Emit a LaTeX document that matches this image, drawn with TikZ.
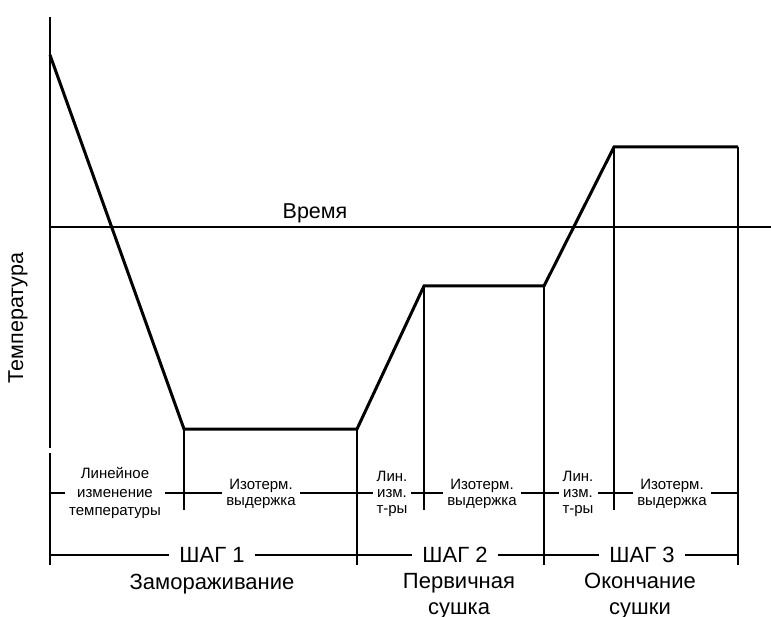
\documentclass[tikz,border=0pt]{standalone}
\usepackage{fontspec}
\setmainfont{Liberation Sans}
\begin{document}
\begin{tikzpicture}[x=1pt,y=-1pt,
  curve/.style={line width=3pt, line join=miter},
  axis/.style={line width=2pt},
  guide/.style={line width=2pt},
  sub/.style={fill=white, inner xsep=4pt, inner ysep=1pt, align=center},
  sublong/.style={sub, font=\fontsize{15}{18.3}\selectfont},
  subshort/.style={sub, font=\fontsize{15}{16}\selectfont},
  stepname/.style={fill=white, inner xsep=10pt, inner ysep=1pt, anchor=base, font=\fontsize{22}{27}\selectfont},
  stagename/.style={anchor=base, align=center, font=\fontsize{22}{26}\selectfont},
  axlab/.style={font=\fontsize{21.5}{24}\selectfont}]
\useasboundingbox (0,0) rectangle (771,617);

% axes
\coordinate (Atop) at (50,17);
\coordinate (Abot) at (50,448);
\coordinate (Tl) at (50,227);
\coordinate (Tr) at (771,227);
\draw[axis] (Atop) -- (Abot);
\draw[axis] (Tl) -- (Tr);

% temperature profile
\coordinate (P0) at (50,55);
\coordinate (P1) at (184,429);
\coordinate (P2) at (357,429);
\coordinate (P3) at (424,286);
\coordinate (P4) at (544,286);
\coordinate (P5) at (614,147);
\coordinate (P6) at (738,147);

% vertical phase separators
\coordinate (B0t) at (50,453);
\coordinate (B0) at (50,565);
\coordinate (V1) at (184,510);
\coordinate (V2) at (357,565);
\coordinate (V3) at (424,510);
\coordinate (V4) at (544,565);
\coordinate (V5) at (614,510);
\coordinate (V6) at (738,565);
\draw[guide] (B0t) -- (B0);
\draw[guide] (P1) -- (V1);
\draw[guide] (P2) -- (V2);
\draw[guide] (P3) -- (V3);
\draw[guide] (P4) -- (V4);
\draw[guide] (P5) -- (V5);
\draw[guide] (P6) -- (V6);

\draw[curve] (P0) -- (P1) -- (P2) -- (P3) -- (P4) -- (P5) -- (P6);

% sub-phase line and step line
\coordinate (Sl) at (50,493);
\coordinate (Sr) at (738,493);
\coordinate (Gl) at (50,555);
\coordinate (Gr) at (738,555);
\draw[guide] (Sl) -- (Sr);
\draw[guide] (Gl) -- (Gr);

% axis labels
\node[axlab, anchor=base] (time) at (315,219) {Время};
\node[axlab, rotate=90] (temp) at (18,318) {Температура};

% sub-phase labels
\node[sublong] (s1a) at (115,493) {Линейное\\изменение\\температуры};
\node[subshort] (s1b) at (261,494) {Изотерм.\\выдержка};
\node[subshort] (s2a) at (392,494) {Лин.\\изм.\\т-ры};
\node[subshort] (s2b) at (482,494) {Изотерм.\\выдержка};
\node[subshort] (s3a) at (578,494) {Лин.\\изм.\\т-ры};
\node[subshort] (s3b) at (672,494) {Изотерм.\\выдержка};

% steps
\node[stepname] (g1) at (212,562) {ШАГ 1};
\node[stepname] (g2) at (455,562) {ШАГ 2};
\node[stepname] (g3) at (642,562) {ШАГ 3};
\node[stagename] (n1) at (212,589) {Замораживание};
\node[stagename] (n2) at (459,614) {Первичная\\сушка};
\node[stagename] (n3) at (640,614) {Окончание\\сушки};
\end{tikzpicture}
\end{document}
